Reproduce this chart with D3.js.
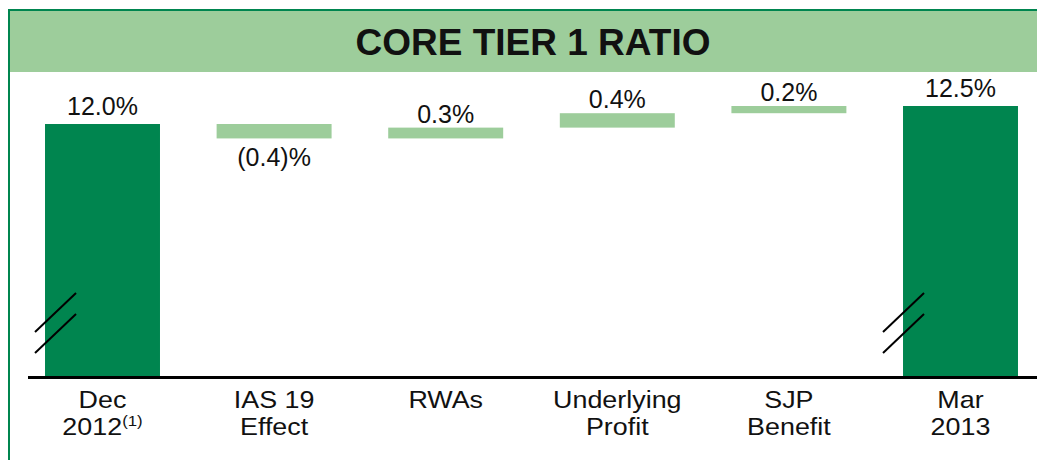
<!DOCTYPE html>
<html>
<head>
<meta charset="utf-8">
<script src="https://cdn.jsdelivr.net/npm/d3@7"></script>
<style>
    body { margin: 0; background: #fff; }
    svg text { font-family: "Liberation Sans", Arial, sans-serif; fill: #111; }
</style>
</head>
<body>
<svg id="chart" width="1037" height="460"></svg>
<script>
// chart data
var title = "CORE TIER 1 RATIO";
var categories = ["Dec 2012", "IAS 19 Effect", "RWAs", "Underlying Profit", "SJP Benefit", "Mar 2013"];
var labelLines = [["Dec", "2012"], ["IAS 19", "Effect"], ["RWAs"], ["Underlying", "Profit"], ["SJP", "Benefit"], ["Mar", "2013"]];
var footnotes = ["(1)", "", "", "", "", ""];
var kinds = ["total", "delta", "delta", "delta", "delta", "total"];
var values = [12.0, -0.4, 0.3, 0.4, 0.2, 12.5];
var valueLabels = ["12.0%", "(0.4)%", "0.3%", "0.4%", "0.2%", "12.5%"];

function WaterfallChart(id) {
    var self = this;
    self.svg = d3.select('#' + id);
    self.init();
}

WaterfallChart.prototype.init = function () {
    var self = this;

    var darkGreen = "#00854f";
    var lightGreen = "#9dcd9b";

    // build running totals
    var rows = [];
    var running = 0;
    values.forEach(function (v, i) {
        var start, end;
        if (kinds[i] == "total") { start = null; end = v; running = v; }
        else { start = running; end = running + v; running = end; }
        rows.push({ cat: categories[i], lines: labelLines[i], note: footnotes[i], kind: kinds[i], v: v, start: start, end: end, label: valueLabels[i] });
    });

    // frame + title band
    self.svg.append("rect").attr("x", 9).attr("y", 10).attr("width", 1040).attr("height", 470)
        .attr("fill", "none").attr("stroke", darkGreen).attr("stroke-width", 2);
    self.svg.append("rect").attr("x", 10).attr("y", 11).attr("width", 1040).attr("height", 61)
        .attr("fill", lightGreen);
    self.svg.append("text").attr("x", 533).attr("y", 55).attr("text-anchor", "middle")
        .style("font-size", "37px").style("font-weight", "bold").text(title);

    var x = d3.scaleBand().domain(categories).range([16.7, 1046.3])
        .paddingInner(0.33).paddingOuter(0.165);

    // axis is broken, so the floor is arbitrary
    var axisFloor = 4.95;
    var y = d3.scaleLinear().domain([axisFloor, 12.5]).range([378, 106]);

    var g = self.svg.append("g");

    g.selectAll("rect.bar")
        .data(rows)
        .enter()
        .append("rect")
        .attr("class", "bar")
        .attr("x", function (d) { return x(d.cat); })
        .attr("width", x.bandwidth())
        .attr("y", function (d) { return d.kind == "total" ? y(d.end) : y(Math.max(d.start, d.end)); })
        .attr("height", function (d) {
            if (d.kind == "total") return y(axisFloor) - y(d.end) + 1;
            return Math.abs(y(d.start) - y(d.end));
        })
        .attr("fill", function (d) { return d.kind == "total" ? darkGreen : lightGreen; });

    // baseline
    g.append("line").attr("x1", 28).attr("x2", 1037).attr("y1", 377.5).attr("y2", 377.5)
        .attr("stroke", "#000").attr("stroke-width", 3);

    // break marks on the total bars
    rows.forEach(function (d, i) {
        if (d.kind != "total") return;
        var bx = x(d.cat) + (i == 0 ? -10 : -20);
        [0, 21].forEach(function (off) {
            g.append("line")
                .attr("x1", bx).attr("y1", 332 + off)
                .attr("x2", bx + 41).attr("y2", 293 + off)
                .attr("stroke", "#000").attr("stroke-width", 2);
        });
    });

    // value labels
    g.selectAll("text.val")
        .data(rows)
        .enter()
        .append("text")
        .attr("class", "val")
        .attr("text-anchor", "middle")
        .style("font-size", "25px")
        .attr("x", function (d) { return x(d.cat) + x.bandwidth() / 2; })
        .attr("y", function (d) {
            if (d.kind == "total") return y(d.end) - 9;
            if (d.v < 0) return y(d.end) + 28;
            return y(d.end) - 5;
        })
        .text(function (d) { return d.label; });

    // category labels (slightly stretched, like the original)
    var cl = g.selectAll("text.cat")
        .data(rows)
        .enter()
        .append("text")
        .attr("class", "cat")
        .attr("text-anchor", "middle")
        .style("font-size", "24px")
        .attr("transform", function (d) { return "translate(" + (x(d.cat) + x.bandwidth() / 2) + ",408) scale(1.12,1)"; });

    cl.each(function (d) {
        var t = d3.select(this);
        d.lines.forEach(function (line, j) {
            t.append("tspan").attr("x", 0).attr("dy", j == 0 ? 0 : 27).text(line);
            if (j == d.lines.length - 1 && d.note) {
                t.append("tspan").attr("dy", -9).style("font-size", "15px").text(d.note);
            }
        });
    });
}

var chart = new WaterfallChart("chart");
</script>
</body>
</html>
